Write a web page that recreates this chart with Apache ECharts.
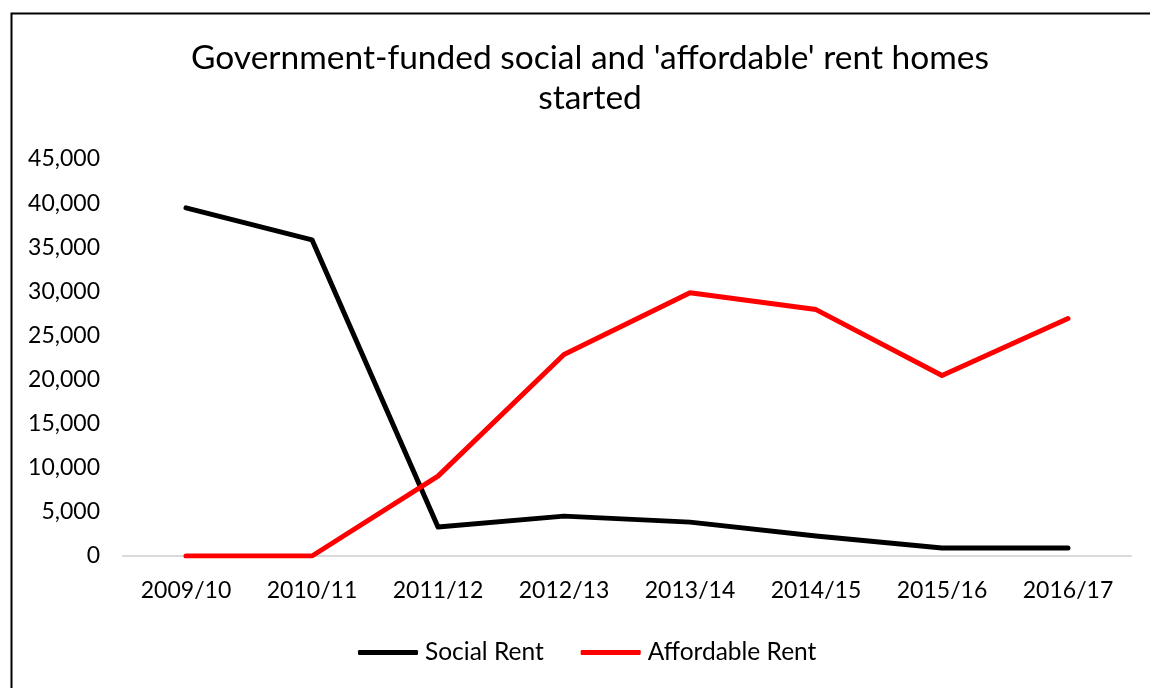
<!DOCTYPE html>
<html>
<head>
<meta charset="utf-8">
<script src="https://cdn.jsdelivr.net/npm/echarts@6/dist/echarts.min.js"></script>
<style>
html,body{margin:0;padding:0;background:#fff;}
#chart{width:1150px;height:688px;}
</style>
</head>
<body>
<div id="chart"></div>
<script>
const categories = ['2009/10','2010/11','2011/12','2012/13','2013/14','2014/15','2015/16','2016/17'];
const socialRent = [39460, 35840, 3280, 4520, 3840, 2260, 900, 900];
const affordableRent = [0, 0, 9050, 22840, 29850, 27930, 20470, 26910];
const titleText = "Government-funded social and 'affordable' rent homes\nstarted";
const FONT = 'Lato';

const chart = echarts.init(document.getElementById('chart'), null, {renderer:'canvas'});
chart.setOption({
  animation: false,
  backgroundColor: '#fff',
  graphic: [{
    type: 'rect', left: 9, top: 11, z: -1,
    shape: {x: 0, y: 0, width: 1200, height: 750},
    style: {fill: 'none', stroke: '#000', lineWidth: 2}
  }],
  title: {
    text: titleText,
    left: 585, top: 33, textAlign: 'center',
    textStyle: {fontFamily: FONT, fontSize: 33.5, fontWeight: 'normal', color: '#000', lineHeight: 40}
  },
  legend: {
    data: ['Social Rent', 'Affordable Rent'],
    left: 353, top: 635,
    itemWidth: 60, itemHeight: 5, itemGap: 37,
    icon: 'roundRect',
    textStyle: {fontFamily: FONT, fontSize: 24.5, color: '#000', padding: [0, 0, 0, 2]}
  },
  grid: {left: 123, right: 19, top: 159, bottom: 132, containLabel: false},
  xAxis: {
    type: 'category', data: categories, boundaryGap: true,
    axisLine: {lineStyle: {color: '#d9d9d9', width: 2}},
    axisTick: {show: false},
    axisLabel: {fontFamily: FONT, fontSize: 23, color: '#000', margin: 23}
  },
  yAxis: {
    type: 'value', min: 0, max: 45000, interval: 5000,
    splitLine: {show: false},
    axisLine: {show: false}, axisTick: {show: false},
    axisLabel: {fontFamily: FONT, fontSize: 23, color: '#000', margin: 23,
      formatter: v => v.toLocaleString('en-US')}
  },
  series: [
    {name: 'Social Rent', type: 'line', data: socialRent, showSymbol: false, symbol: 'none',
     itemStyle: {color: '#000'}, lineStyle: {color: '#000', width: 5, cap: 'round', join: 'round'}},
    {name: 'Affordable Rent', type: 'line', data: affordableRent, showSymbol: false, symbol: 'none',
     itemStyle: {color: '#ff0000'}, lineStyle: {color: '#ff0000', width: 5, cap: 'round', join: 'round'}}
  ]
});
</script>
</body>
</html>
